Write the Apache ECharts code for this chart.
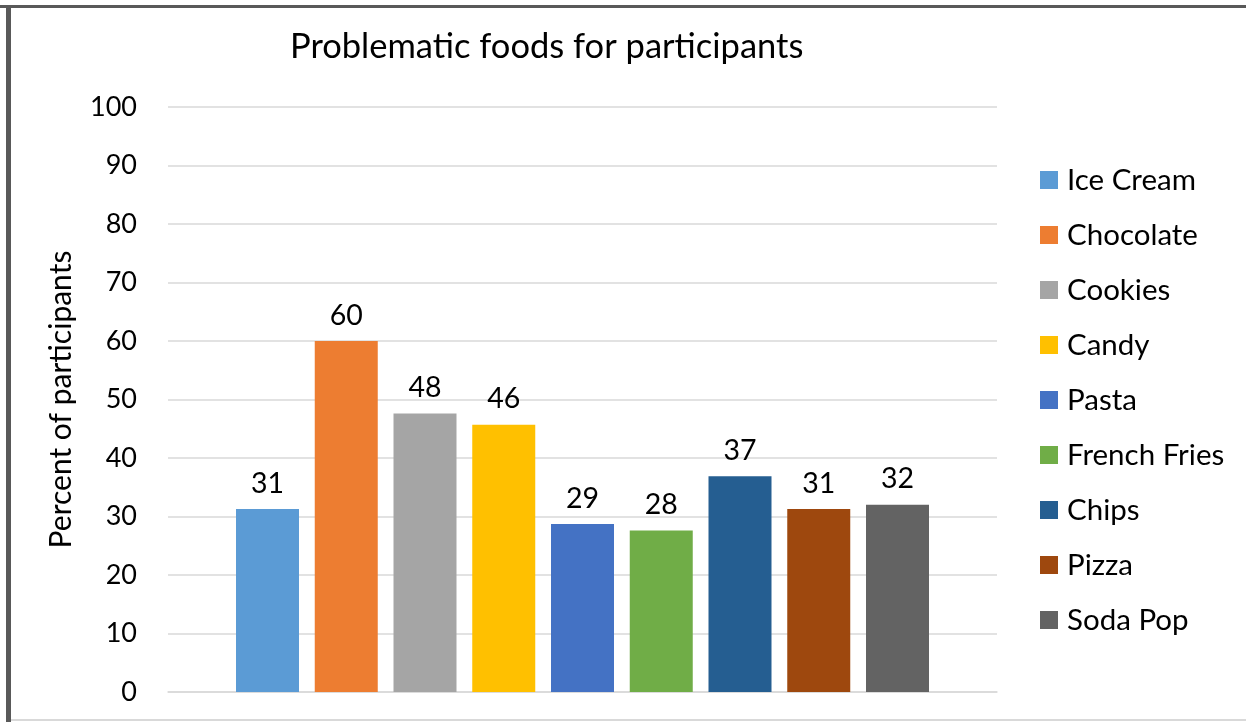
<!DOCTYPE html>
<html>
<head>
<meta charset="utf-8">
<script src="https://cdn.jsdelivr.net/npm/echarts@6/dist/echarts.min.js"></script>
<style>
  html, body { margin: 0; padding: 0; background: #ffffff; }
  #chart { width: 1246px; height: 722px; }
</style>
</head>
<body>
<div id="chart"></div>
<script>
// Foods named by participants as problematic, percent of participants
const foods = ['Ice Cream', 'Chocolate', 'Cookies', 'Candy', 'Pasta', 'French Fries', 'Chips', 'Pizza', 'Soda Pop'];
const percents = [31.3, 60.0, 47.6, 45.7, 28.7, 27.6, 36.9, 31.3, 32.0];
const colors = ['#5b9bd5', '#ed7d31', '#a5a5a5', '#ffc000', '#4472c4', '#70ad47', '#255e91', '#9e480e', '#636363'];
const yTicks = { min: 0, max: 100, step: 10 };

const FONT = 'Lato';

const series = foods.map((name, i) => ({
  name: name,
  type: 'bar',
  data: [percents[i]],
  itemStyle: { color: colors[i] },
  barWidth: 63,
  barGap: '25%',
  label: {
    show: true,
    position: 'top',
    distance: 11,
    color: '#000000',
    fontFamily: FONT,
    fontSize: 28.5,
    formatter: p => String(Math.round(p.value))
  }
}));

const chart = echarts.init(document.getElementById('chart'), null, { renderer: 'canvas' });
chart.setOption({
  backgroundColor: '#ffffff',
  animation: false,
  title: {
    text: 'Problematic foods for participants',
    left: 285,
    top: 24,
    textStyle: { fontFamily: FONT, fontSize: 34.5, fontWeight: 'normal', color: '#000000' }
  },
  legend: {
    orient: 'vertical',
    left: 1040,
    top: 165,
    padding: 0,
    itemWidth: 18,
    itemHeight: 18,
    itemGap: 25,
    icon: 'rect',
    textStyle: { fontFamily: FONT, fontSize: 29.5, color: '#000000', padding: [0, 0, 0, 4], lineHeight: 29.6 },
    data: foods
  },
  grid: { left: 168, right: 249, top: 107, bottom: 30, containLabel: false },
  xAxis: {
    type: 'category',
    data: [''],
    axisLine: { show: true, lineStyle: { color: '#d9d9d9', width: 1.5 } },
    axisTick: { show: false },
    axisLabel: { show: false }
  },
  yAxis: {
    type: 'value',
    min: yTicks.min,
    max: yTicks.max,
    interval: yTicks.step,
    name: 'Percent of participants',
    nameLocation: 'middle',
    nameGap: 92,
    nameTextStyle: { fontFamily: FONT, fontSize: 30, color: '#000000' },
    axisLine: { show: false },
    axisTick: { show: false },
    axisLabel: { fontFamily: FONT, fontSize: 27, color: '#000000', margin: 31 },
    splitLine: { lineStyle: { color: '#d9d9d9', width: 1.5 } }
  },
  graphic: [
    // frame: dark top and left edges, light bottom edge
    { type: 'rect', shape: { x: 0, y: 5, width: 1246, height: 3 }, style: { fill: '#595959' }, silent: true },
    { type: 'rect', shape: { x: 6, y: 5, width: 5, height: 717 }, style: { fill: '#595959' }, silent: true },
    { type: 'rect', shape: { x: 11, y: 719, width: 1235, height: 2 }, style: { fill: '#d9d9d9' }, silent: true }
  ],
  series: series
});
</script>
</body>
</html>
